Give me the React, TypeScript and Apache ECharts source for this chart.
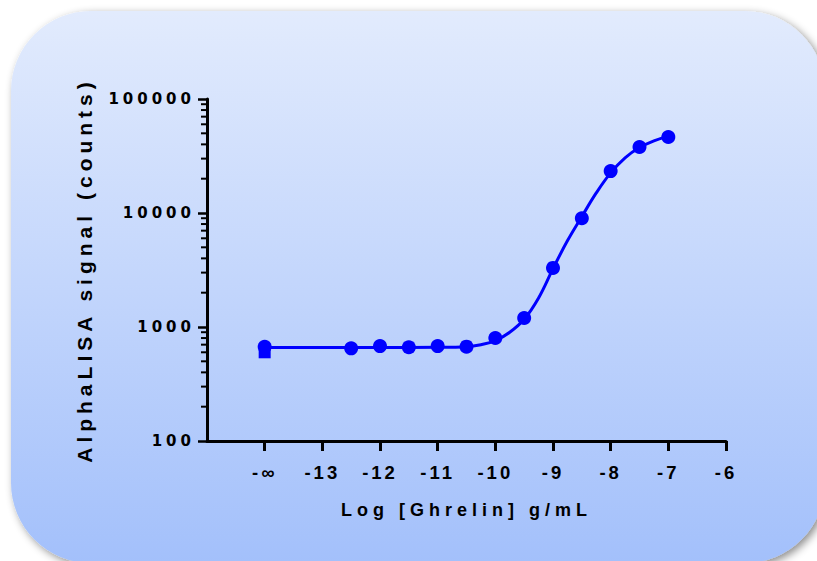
import { useEffect, useRef } from "react";
import * as echarts from "echarts";

// ---- data ----
const xTickValues = [-14, -13, -12, -11, -10, -9, -8, -7, -6];
const xTickLabels = ["-∞", "-13", "-12", "-11", "-10", "-9", "-8", "-7", "-6"];
const yTickValues = [100, 1000, 10000, 100000];
const yTickLabels = ["100", "1000", "10000", "100000"];
const yMinorTickValues = [
  200, 300, 400, 500, 600, 700, 800, 900,
  2000, 3000, 4000, 5000, 6000, 7000, 8000, 9000,
  20000, 30000, 40000, 50000, 60000, 70000, 80000, 90000,
];
const doseLog = [-12.5, -12, -11.5, -11, -10.5, -10, -9.5, -9, -8.5, -8, -7.5, -7];
const signal = [650, 680, 665, 680, 672, 800, 1200, 3300, 9000, 23300, 37900, 46400];
const controlX = [-14];
const controlCircle = [670];
const controlSquare = [600];
const fitX = [-14, -12, -11, -10.5, -10.25, -10, -9.75, -9.5, -9.25, -9, -8.75, -8.5, -8.25, -8, -7.75, -7.5, -7.25, -7];
const fitY = [662, 662, 664, 672, 700, 760, 900, 1170, 1800, 3250, 5700, 9300, 15000, 22500, 30500, 37500, 43000, 47000];

const X_MIN = -15;
const X_MAX = -6;
const BLUE = "#0000ff";
const FONT = "Liberation Sans, Arial, sans-serif";

const css = `
.chartbox text[style*="15px"] { letter-spacing: 4px; }
.chartbox text[style*="18.5px"] { letter-spacing: 3px; }
.chartbox text[style*="18px"] { letter-spacing: 5px; }
.chartbox text[style*="21px"] { letter-spacing: 5px; }
`;

export default function App() {
  const ref = useRef<HTMLDivElement>(null);

  useEffect(() => {
    if (!ref.current) return;
    const chart = echarts.init(ref.current, null, { renderer: "svg" });
    const xLabel = (v: number) => {
      const i = xTickValues.indexOf(v);
      return i >= 0 ? xTickLabels[i] : "";
    };
    const yLabel = (v: number) => {
      const i = yTickValues.findIndex((t) => Math.abs(t - v) / t < 1e-6);
      return i >= 0 ? yTickLabels[i] : "";
    };
    chart.setOption({
      animation: false,
      graphic: [
        {
          type: "rect",
          z: -10,
          silent: true,
          shape: { x: 11, y: 11, width: 814, height: 552, r: 80 },
          style: {
            fill: new echarts.graphic.LinearGradient(0, 0, 0, 1, [
              { offset: 0, color: "#e2ebfd" },
              { offset: 1, color: "#a3c0fb" },
            ]),
            shadowBlur: 8,
            shadowOffsetX: 3,
            shadowOffsetY: 3,
            shadowColor: "rgba(0,0,0,0.45)",
          },
        },
      ],
      grid: { left: 207, top: 99, right: 91, bottom: 120, outerBoundsMode: "none" },
      xAxis: {
        type: "value",
        min: X_MIN,
        max: X_MAX,
        interval: 1,
        splitLine: { show: false },
        axisLine: { lineStyle: { color: "#000", width: 3 } },
        axisTick: {
          customValues: xTickValues,
          length: 10,
          lineStyle: { color: "#000", width: 3 },
        },
        axisLabel: {
          customValues: xTickValues,
          formatter: (v: number) => xLabel(v),
          margin: 22,
          color: "#000",
          fontSize: 18.5,
          fontWeight: "bold",
          fontFamily: FONT,
        },
        name: "Log [Ghrelin] g/mL",
        nameLocation: "middle",
        nameGap: 60,
        nameTextStyle: { color: "#000", fontSize: 18, fontWeight: "bold", fontFamily: FONT },
      },
      yAxis: {
        type: "log",
        logBase: 10,
        min: 100,
        max: 100000,
        splitLine: { show: false },
        axisLine: { lineStyle: { color: "#000", width: 3 } },
        axisTick: { length: 9, lineStyle: { color: "#000", width: 2.5 } },
        axisLabel: {
          formatter: (v: number) => yLabel(v),
          margin: 12,
          color: "#000",
          fontSize: 15,
          fontWeight: "bold",
          fontFamily: "DejaVu Sans, sans-serif",
        },
        name: "AlphaLISA signal (counts)",
        nameLocation: "middle",
        nameGap: 112,
        nameTextStyle: { color: "#000", fontSize: 21, fontWeight: "bold", fontFamily: FONT },
      },
      series: [
        {
          type: "custom",
          coordinateSystem: "cartesian2d",
          silent: true,
          clip: false,
          data: yMinorTickValues.map((v) => [X_MIN, v]),
          renderItem: (_params: any, api: any) => {
            const p = api.coord([api.value(0), api.value(1)]);
            return {
              type: "line",
              shape: { x1: p[0] - 6, y1: p[1], x2: p[0], y2: p[1] },
              style: { stroke: "#000", lineWidth: 2 },
            };
          },
        },
        {
          type: "line",
          data: fitX.map((x, i) => [x, fitY[i]]),
          smooth: 0.4,
          showSymbol: false,
          lineStyle: { color: BLUE, width: 3 },
          z: 2,
          silent: true,
        },
        {
          type: "scatter",
          data: controlX.map((x, i) => [x, controlSquare[i]]),
          symbol: "rect",
          symbolSize: 12,
          itemStyle: { color: BLUE, opacity: 1 },
          z: 3,
        },
        {
          type: "scatter",
          data: [
            ...controlX.map((x, i) => [x, controlCircle[i]]),
            ...doseLog.map((x, i) => [x, signal[i]]),
          ],
          symbol: "circle",
          symbolSize: 14,
          itemStyle: { color: BLUE, opacity: 1 },
          z: 4,
        },
      ],
    });
    return () => chart.dispose();
  }, []);

  return (
    <>
      <style>{css}</style>
      <div
        ref={ref}
        className="chartbox"
        style={{ position: "absolute", left: 0, top: 0, width: 817, height: 561 }}
      />
    </>
  );
}
